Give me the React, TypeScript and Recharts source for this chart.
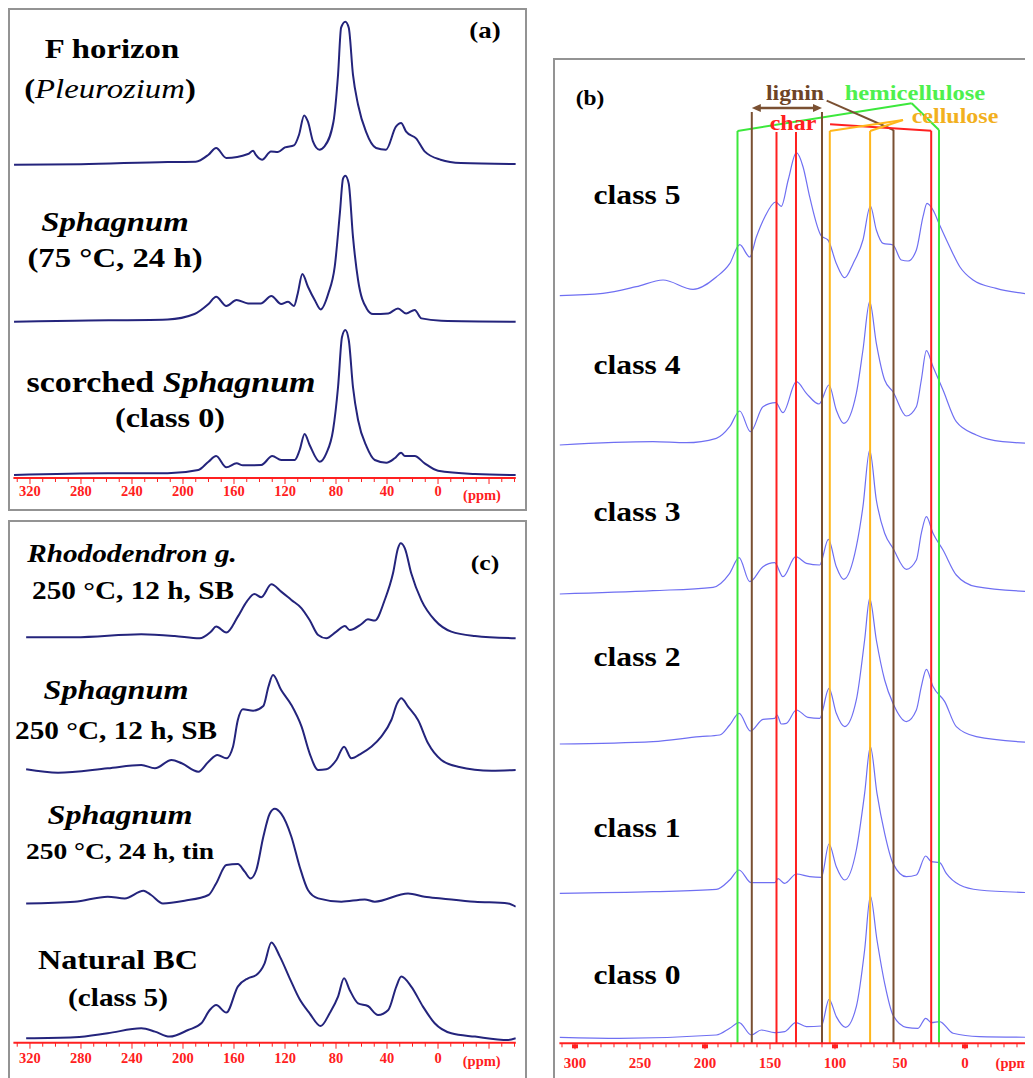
import React from 'react';
import { LineChart, Line, XAxis, YAxis, ReferenceLine } from 'recharts';

type Pt = [number, number];

// ---------- panel (a): [ppm, intensity] ----------
const fHorizon: Pt[] = [[332.5,0],[280,0.5],[212,2.7],[190,3],[180,10],[174,16.7],[166,6.7],[149,10.7],[145,14],[143,10],[138,5],[131,13.3],[125.6,12.7],[120,17.3],[113,19.3],[109,30],[105,49.3],[102,43],[98,23],[93,15],[89,18.3],[82,43],[78.4,90],[76,137],[72.7,143],[70,137],[66.7,90],[62.7,60],[56.5,33],[48.6,16.7],[40.8,15],[33,38],[29,41.7],[25,33],[17,26],[10.5,13.3],[-2,5],[-18,1.7],[-61,0.7]];
const sphagnum75: Pt[] = [[332.5,0],[285,1],[212,2.3],[191,7.7],[180,17.7],[174,25],[166,15.7],[158,21.7],[149,18.3],[139,18.3],[130.7,25.7],[123,17.7],[117.6,20],[113,15.7],[110,28.3],[106.4,47.7],[102,35],[96.7,21.7],[92,12.3],[86,28.3],[81,55],[77,108],[74.5,143],[72.7,146],[70,138],[66.7,85],[62.7,41.7],[56,13.3],[51,7.7],[39,8.3],[31.4,13.3],[25,8.3],[18.3,11.7],[13,3.3],[-2.6,1],[-61,0]];
const scorched0: Pt[] = [[332.5,0],[259,1.7],[212,1.7],[188,5],[180,13.3],[174,19],[166,7.7],[158,11.7],[153,9.7],[138.6,10],[130,19],[123,15],[112.4,15],[108.5,25],[104.6,41],[100.7,30],[92.8,13.3],[87.6,21.7],[82.3,45],[78.4,88],[75.3,138],[72.7,145],[70,135],[66.7,88],[62.7,55],[56,28.3],[49.6,15],[40.5,12.3],[34,16.7],[29,22.3],[26,19],[18.3,19],[10.5,11.7],[0,4.3],[-29,1],[-61,0]];

// ---------- panel (c) ----------
const rhodo: Pt[] = [[323,1],[285,1],[232.7,4],[206.5,2.3],[187,0],[178,6.7],[174,11.7],[166,5.7],[157,21.7],[150,36.7],[144,44.3],[138.6,41],[130.7,54],[123,46.7],[115,38.3],[107,30],[100.7,18.3],[94,3.3],[87.6,0],[79.7,6.7],[73,12.3],[69.3,8.3],[60,14.3],[55,19],[49.6,17.7],[41.8,38.3],[35.3,65],[31.4,90],[29.3,95],[26,90],[21,65],[13,38],[2.6,18.3],[-10.4,6.7],[-29,2.3],[-61,0]];
const sph12: Pt[] = [[323,0.7],[298,-2.7],[259,1.7],[232.7,5],[222,1.7],[209,10],[201,6.7],[188,-1.7],[180,8.3],[173,15],[166,11.7],[160.8,23.3],[157,50],[153,60.7],[145,59.3],[137,64],[133,83.3],[129.4,95],[123,80],[115,65],[107,43.3],[100.7,16.7],[94,0],[87.6,0.7],[79.7,10],[73.7,23.3],[68,11.7],[60,16.7],[52.3,23.3],[44.5,33.3],[36.6,50],[32,66.7],[28.8,71.7],[23.5,63.3],[15.7,50],[7.8,26.7],[-2.6,10],[-15.7,3.3],[-42,-0.7],[-61,0]];
const sph24: Pt[] = [[323,-0.7],[285,1],[259,6],[245.7,4.3],[231,12],[225,7.7],[215.7,-0.7],[198.7,2],[180,7.7],[174,19.3],[166,37.7],[157,38.7],[151.6,31],[147,24.3],[142.5,32.7],[137,66],[132,89],[128,94],[123,89],[115,66],[108.5,36],[102,12.7],[94,4.3],[75.8,1],[57.5,3.3],[49.6,1],[23.5,9.3],[10.5,6],[-2.6,4.3],[-28.8,1],[-55,-0.7],[-61,-4]];
const naturalBC: Pt[] = [[323,0],[285,1],[259,5],[232.7,10],[222,6.7],[210.5,1.7],[196,8.3],[185.6,15],[179,28.3],[174,33.3],[166,25.7],[157,51.7],[149,60],[142.5,63.3],[136,75],[130.7,95.7],[124,81.7],[116.3,60],[108.5,39],[100.7,25],[92,12.3],[85,25],[78.4,41.7],[73.7,60],[69.3,48.3],[62.7,35],[55,32.3],[47,23.3],[39,28.3],[32.7,51.7],[28.8,61.7],[21,51.7],[11.8,31.7],[2.6,15],[-10.4,5],[-29,1.7],[-55,-1.7],[-61,0]];

// ---------- panel (b) ----------
const class5: Pt[] = [[311.8,0],[278.5,2.3],[252.8,9],[232.3,15.7],[209.2,6.3],[191.3,18.7],[181,32],[173.3,51],[165.6,38.7],[160.5,58.7],[154,78.7],[145.6,93.7],[141.3,89.3],[136,115.7],[129.7,143],[124.6,129],[119.5,99],[110.5,59.7],[105.4,55.7],[99,32.3],[92.5,18],[86,32.3],[78.5,55.7],[72.8,89.7],[68.2,65.7],[63,52.3],[55.4,50.7],[49,35.7],[43.8,34.7],[37.4,45.7],[32.3,79],[29.2,92.3],[24.6,85.7],[19.5,70.7],[11.8,49],[4,29],[-6.2,15.7],[-24,7.3],[-52,1.3]];
const class4: Pt[] = [[311.8,0],[240,3.3],[214.4,2.3],[191.3,6.7],[181,18.3],[173.3,34],[165,13.3],[155.4,38.3],[145.6,42.3],[140,32.3],[129.7,63.3],[122,51.7],[112.3,41],[104.6,60],[99,35],[93.3,21.7],[83.6,51.7],[78.5,95],[73.3,143.3],[68.2,101.7],[61.8,65],[55.4,53.3],[45.1,29],[37.4,38.3],[33.6,65],[29.7,94.3],[24.6,78.3],[16.9,55],[6.7,23.3],[-8.7,10],[-29,3.3],[-52,1.7]];
const class3: Pt[] = [[311.8,0],[240,3.3],[193.8,6.7],[181,20.7],[173.8,36.3],[165.6,12.3],[155.4,27.3],[146.4,31.3],[140,17.3],[130.2,37.3],[122,30.7],[111.8,29],[105.1,54.7],[99,27.3],[93.3,14.7],[83.6,47.3],[78.5,87.3],[73.3,144],[68.2,94],[61.8,60.7],[55.4,45.7],[45.1,24.7],[37.4,34],[33.6,60.7],[29.7,77.3],[24.6,60.7],[16.9,44],[6.7,19],[-8.7,7.3],[-52,2.3]];
const class2: Pt[] = [[311.8,-0.7],[240,1.7],[204,6.7],[188.7,8.3],[181,18.3],[173.8,30],[165,12.3],[155.4,24],[146.4,25],[144.6,28.3],[141.3,19.3],[137.4,20],[129.7,33.3],[120.8,26],[111.8,25],[104.6,55],[99,30],[92.5,16.7],[83.6,43.3],[77.2,103.3],[73.3,145],[68.2,103.3],[61.8,63.3],[55.4,40],[45.1,21.7],[37.4,33.3],[33.6,56.7],[29.7,74],[24.6,56.7],[15.6,41.7],[6.7,16.7],[-8.7,6.7],[-52,0.7]];
const class1: Pt[] = [[311.8,-0.7],[240,1],[191.3,3.3],[181,12.7],[173.8,22.7],[164.4,10],[146.4,10],[143.8,14],[138.7,9.3],[129.7,18.7],[119.5,16],[110.5,15.3],[104.6,48.7],[99,26],[92.5,12.7],[83.6,42.7],[77.2,99.3],[72.8,146],[67.7,99.3],[61.8,59.3],[55.4,29.3],[45.1,16],[37.4,17.7],[30.2,36.7],[25.9,31],[19.5,30],[14.4,19.3],[4,7.7],[-11,2.7],[-52,0]];
const class0: Pt[] = [[311.8,0],[265.6,-1],[191.3,2.3],[181,9],[173.8,14.7],[164.4,2.3],[156.7,7.3],[146.4,4.7],[138.7,5.7],[130.2,14.7],[122,10.7],[110.5,11.3],[104.6,38],[99,20.7],[91.8,10],[83.6,30.7],[77.2,87.3],[72.8,141.3],[67.7,97.3],[61.8,54],[55.4,22.3],[45.1,10],[36.2,9],[30.2,19],[25.9,14.7],[19.5,15.7],[9.2,4],[-11,0.7],[-52,0]];

// tick values
const ticksAC = Array.from({ length: 40 }, (_, i) => -60 + i * 10);
const ticksB = Array.from({ length: 37 }, (_, i) => -50 + i * 10);

// assignment guides (ppm)
const hemicelluloseGuides = [175, 20];
const ligninGuides = [164, 110, 55];
const charGuides = [145, 130, 26];
const celluloseGuides = [104, 73];

const SERIF = '"Liberation Serif", "Times New Roman", serif';
const NAVY = '#24247c';
const BLUE = '#6f6ff2';
const RED = '#ff2020';
const GREEN = '#3ce83c';
const BROWN = '#7a5032';
const ORANGE = '#ffb71c';

const toData = (pts: Pt[]) => pts.map(([ppm, v]) => ({ ppm, v }));

function T({ x, y, size, color = '#000', sx = 1.17, children }: any) {
  return (
    <div style={{ position: 'absolute', left: x - 8, top: y - 8, transform: `translate(-50%, -50%) scaleX(${sx})`, whiteSpace: 'nowrap', fontFamily: SERIF, fontWeight: 700, fontSize: size, lineHeight: 1, color }}>
      {children}
    </div>
  );
}

function makeTick(labelEvery: number, majorEvery: number, squareEvery: number, labelDy: number, fontSize: number) {
  return (props: any) => {
    const { x, y, payload } = props;
    const v = Math.round(payload.value);
    const labeled = v >= 0 && v % labelEvery === 0;
    const major = v % majorEvery === 0;
    const square = squareEvery > 0 && v >= 0 && v % squareEvery === 0;
    return (
      <g>
        <line x1={x} x2={x} y1={y} y2={y + (major ? 6 : 4)} stroke={RED} strokeWidth={1} />
        {square && <rect x={x - 3} y={y + 1} width={6} height={4} fill={RED} />}
        {labeled && (
          <text x={x} y={y + labelDy} textAnchor="middle" dominantBaseline="central" fill={RED} fontFamily={SERIF} fontWeight={700} fontSize={fontSize}>
            {v}
          </text>
        )}
      </g>
    );
  };
}

const tickA = makeTick(40, 40, 0, 13, 14.5);
const tickC = makeTick(40, 40, 0, 15.3, 14.5);
const tickB = makeTick(50, 50, 100, 20, 15);

const frame = (left: number, top: number, w: number, h: number): React.CSSProperties => ({
  position: 'absolute', left: left - 8, top: top - 8, width: w, height: h, border: '2px solid #939393', boxSizing: 'border-box', background: '#fff',
});

// domain helper: baseline at page y `yb` inside plot spanning page [top, bottom], 1 unit = 1 px
const dom = (yb: number, top: number, bottom: number): [number, number] => [-(bottom - yb), yb - top];

function ArrowShape(p: any) {
  const { x1, y1, x2, y2 } = p;
  const h = 9, w = 4;
  return (
    <g>
      <line x1={x1 + 4} y1={y1} x2={x2 - 4} y2={y2} stroke={BROWN} strokeWidth={2.5} />
      <polygon points={`${x1},${y1} ${x1 + h},${y1 - w} ${x1 + h},${y1 + w}`} fill={BROWN} />
      <polygon points={`${x2},${y2} ${x2 - h},${y2 - w} ${x2 - h},${y2 + w}`} fill={BROWN} />
    </g>
  );
}

export default function App() {
  // panel (a) plot spans page y 10..478
  const aT = 10, aB = 478;
  const cT = 522, cB = 1042.7;
  const bT = 60, bB = 1043.3;
  const bH = bB - bT;

  const seg = (pts: [number, number][], color: string, key: string, width = 2) => (
    <ReferenceLine key={key} yAxisId="ann" segment={pts.map(([x, y]) => ({ x, y }))} stroke={color} strokeWidth={width} ifOverflow="visible" />
  );

  const navyLine = (pts: Pt[], id: string) => (
    <Line key={id} data={toData(pts)} dataKey="v" yAxisId={id} type="monotone" stroke={NAVY} strokeWidth={2} dot={false} isAnimationActive={false} />
  );
  const blueLine = (pts: Pt[], id: string) => (
    <Line key={id} data={toData(pts)} dataKey="v" yAxisId={id} type="monotone" stroke={BLUE} strokeWidth={1.2} dot={false} isAnimationActive={false} />
  );

  return (
    <div style={{ position: 'relative', width: 1025, height: 1070, overflow: 'hidden', background: '#fff', fontFamily: SERIF }}>
      {/* panel (a) */}
      <div style={frame(8, 8, 519, 503)}>
        <LineChart width={515} height={499} margin={{ top: 0, left: 3.4, right: 9.2, bottom: 1 }}>
          <XAxis dataKey="ppm" type="number" domain={[-61, 333]} reversed allowDataOverflow ticks={ticksAC} interval={0} tickLine={false} tickSize={0} tickMargin={0} tick={tickA} height={30} axisLine={{ stroke: RED, strokeWidth: 2 }} />
          <YAxis yAxisId="a1" hide type="number" domain={dom(164.7, aT, aB)} allowDataOverflow />
          <YAxis yAxisId="a2" hide type="number" domain={dom(321.7, aT, aB)} allowDataOverflow />
          <YAxis yAxisId="a3" hide type="number" domain={dom(475, aT, aB)} allowDataOverflow />
          {navyLine(fHorizon, 'a1')}
          {navyLine(sphagnum75, 'a2')}
          {navyLine(scorched0, 'a3')}
        </LineChart>
      </div>

      {/* panel (c) */}
      <div style={frame(8, 520, 519, 560)}>
        <LineChart width={515} height={553} margin={{ top: 0, left: 3.4, right: 9.2, bottom: 2.3 }}>
          <XAxis dataKey="ppm" type="number" domain={[-61, 333]} reversed allowDataOverflow ticks={ticksAC} interval={0} tickLine={false} tickSize={0} tickMargin={0} tick={tickC} height={30} axisLine={{ stroke: RED, strokeWidth: 2 }} />
          <YAxis yAxisId="c1" hide type="number" domain={dom(638.3, cT, cB)} allowDataOverflow />
          <YAxis yAxisId="c2" hide type="number" domain={dom(770, cT, cB)} allowDataOverflow />
          <YAxis yAxisId="c3" hide type="number" domain={dom(902.7, cT, cB)} allowDataOverflow />
          <YAxis yAxisId="c4" hide type="number" domain={dom(1038.3, cT, cB)} allowDataOverflow />
          {navyLine(rhodo, 'c1')}
          {navyLine(sph12, 'c2')}
          {navyLine(sph24, 'c3')}
          {navyLine(naturalBC, 'c4')}
        </LineChart>
      </div>

      {/* panel (b) */}
      <div style={frame(553, 58, 500, 1030)}>
        <LineChart width={485.4} height={1018} margin={{ top: 0, left: 4.4, right: 0, bottom: 4.7 }}>
          <XAxis dataKey="ppm" type="number" domain={[-58, 312]} reversed allowDataOverflow ticks={ticksB} interval={0} tickLine={false} tickSize={0} tickMargin={0} tick={tickB} height={30} axisLine={{ stroke: RED, strokeWidth: 2 }} />
          <YAxis yAxisId="ann" hide type="number" domain={[0, bH]} reversed allowDataOverflow />
          <YAxis yAxisId="b5" hide type="number" domain={dom(295.7, bT, bB)} allowDataOverflow />
          <YAxis yAxisId="b4" hide type="number" domain={dom(445, bT, bB)} allowDataOverflow />
          <YAxis yAxisId="b3" hide type="number" domain={dom(594, bT, bB)} allowDataOverflow />
          <YAxis yAxisId="b2" hide type="number" domain={dom(743.3, bT, bB)} allowDataOverflow />
          <YAxis yAxisId="b1" hide type="number" domain={dom(892.7, bT, bB)} allowDataOverflow />
          <YAxis yAxisId="b0" hide type="number" domain={dom(1037.3, bT, bB)} allowDataOverflow />
          {blueLine(class5, 'b5')}
          {blueLine(class4, 'b4')}
          {blueLine(class3, 'b3')}
          {blueLine(class2, 'b2')}
          {blueLine(class1, 'b1')}
          {blueLine(class0, 'b0')}
          {/* vertical assignment guides */}
          {seg([[hemicelluloseGuides[0], 71], [hemicelluloseGuides[0], bH]], GREEN, 'g1')}
          {seg([[hemicelluloseGuides[1], 70], [hemicelluloseGuides[1], bH]], GREEN, 'g2')}
          {seg([[hemicelluloseGuides[0], 71], [41, 43.3]], GREEN, 'g3')}
          {seg([[41, 43.3], [hemicelluloseGuides[1], 70]], GREEN, 'g4')}
          {seg([[ligninGuides[0], 52], [ligninGuides[0], bH]], BROWN, 'l1')}
          {seg([[ligninGuides[1], 52], [ligninGuides[1], bH]], BROWN, 'l2')}
          {seg([[ligninGuides[2], 70], [ligninGuides[2], bH]], BROWN, 'l3')}
          {seg([[106.4, 40.7], [ligninGuides[2], 70]], BROWN, 'l4')}
          <ReferenceLine yAxisId="ann" segment={[{ x: ligninGuides[0], y: 48 }, { x: ligninGuides[1], y: 48 }]} ifOverflow="visible" shape={ArrowShape} />
          {seg([[charGuides[0], 72], [charGuides[0], bH]], RED, 'r1')}
          {seg([[charGuides[1], 72], [charGuides[1], bH]], RED, 'r2')}
          {seg([[charGuides[2], 70.7], [charGuides[2], bH]], RED, 'r3')}
          {seg([[103.8, 64.3], [charGuides[2], 70.7]], RED, 'r4')}
          {seg([[celluloseGuides[0], 71], [celluloseGuides[0], bH]], ORANGE, 'o1')}
          {seg([[celluloseGuides[1], 71], [celluloseGuides[1], bH]], ORANGE, 'o2')}
          {seg([[celluloseGuides[0], 71], [47.7, 60]], ORANGE, 'o3')}
          {seg([[celluloseGuides[1], 71], [47.7, 60]], ORANGE, 'o4')}
        </LineChart>
      </div>

      {/* panel (a) text */}
      <T x={112} y={48.7} size={28}>F horizon</T>
      <T x={110} y={89} size={28}>(<span style={{ fontStyle: 'italic', fontWeight: 400 }}>Pleurozium</span>)</T>
      <T x={114.7} y={221.7} size={28}><i>Sphagnum</i></T>
      <T x={114.7} y={258.3} size={28}>(75 °C, 24 h)</T>
      <T x={170.5} y={381.7} size={29}>scorched <i>Sphagnum</i></T>
      <T x={169.7} y={418.3} size={27.5}>(class 0)</T>
      <T x={485} y={29.7} size={23}>(a)</T>
      <T x={482} y={495.3} size={14.5} color={RED} sx={1}>(ppm)</T>

      {/* panel (c) text */}
      <T x={132} y={553.3} size={25}><i>Rhododendron g.</i></T>
      <T x={133} y={590} size={25}>250 °C, 12 h, SB</T>
      <T x={485} y={563.3} size={22}>(c)</T>
      <T x={116} y={690} size={27.5}><i>Sphagnum</i></T>
      <T x={116} y={730} size={25}>250 °C, 12 h, SB</T>
      <T x={119.7} y={815} size={27.5}><i>Sphagnum</i></T>
      <T x={120.3} y={851.7} size={23.5}>250 °C, 24 h, tin</T>
      <T x={118} y={960} size={27.5}>Natural BC</T>
      <T x={118} y={996.7} size={25}>(class 5)</T>
      <T x={481.7} y={1060.7} size={14.5} color={RED} sx={1}>(ppm)</T>

      {/* panel (b) text */}
      <T x={590} y={98} size={20}>(b)</T>
      <T x={637} y={195} size={27}>class 5</T>
      <T x={637} y={365} size={27}>class 4</T>
      <T x={637} y={511.7} size={27}>class 3</T>
      <T x={637} y={656.7} size={27}>class 2</T>
      <T x={637} y={828} size={27}>class 1</T>
      <T x={637} y={975} size={27}>class 0</T>
      <T x={795} y={93.3} size={20.3} color="#6e4426">lignin</T>
      <T x={915} y={93.3} size={21} color="#4ef04e">hemicellulose</T>
      <T x={955} y={115.7} size={20.5} color="#f2b01e">cellulose</T>
      <T x={792.5} y={122.7} size={20.5} color={RED}>char</T>
      <T x={1014.5} y={1063.3} size={14.5} color={RED} sx={1}>(ppm)</T>
    </div>
  );
}
